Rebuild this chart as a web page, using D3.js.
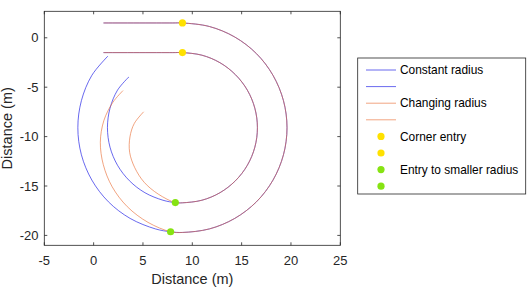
<!DOCTYPE html>
<html>
<head>
<meta charset="utf-8">
<script src="https://cdn.jsdelivr.net/npm/d3@7"></script>
<style>
  body { margin: 0; background: #fff; }
  svg { font-family: "Liberation Sans", Arial, sans-serif; }
</style>
</head>
<body>
<div id="chart"></div>
<script>
// track data (metres)
var sharedOuter = [[1, 1.5], [8, 1.5], [9, 1.5], [11.74, 1.14], [14.3, 0.08], [16.5, -1.6], [18.18, -3.8],
  [19.24, -6.36], [19.6, -9.1], [19.24, -11.84], [18.18, -14.4], [16.5, -16.6], [14.3, -18.28],
  [11.74, -19.34], [9, -19.7], [7.8, -19.63]];
var constOuterTail = [[6.26, -19.34], [3.7, -18.28], [1.5, -16.6], [-0.18, -14.4], [-1.24, -11.84],
  [-1.6, -9.1], [-1.24, -6.36], [-0.18, -3.8], [1.45, -1.85]];
var changeOuterTail = [[5.51, -18.68], [3.41, -17.09], [1.88, -15.08], [0.98, -12.84], [0.68, -10.57],
  [1.03, -8.4], [1.95, -6.53], [2.98, -5.34]];

var sharedInner = [[1, -1.5], [8, -1.5], [9, -1.5], [10.97, -1.76], [12.8, -2.52], [14.37, -3.73], [15.58, -5.3],
  [16.34, -7.13], [16.6, -9.1], [16.34, -11.07], [15.58, -12.9], [14.37, -14.47], [12.8, -15.68],
  [10.97, -16.44], [9, -16.7], [8.28, -16.68]];
var constInnerTail = [[7.03, -16.44], [5.2, -15.68], [3.63, -14.47], [2.42, -12.9], [1.66, -11.07],
  [1.4, -9.1], [1.66, -7.13], [2.42, -5.3], [3.58, -3.95]];
var changeInnerTail = [[6.55, -15.82], [5.13, -14.63], [4.17, -13.15], [3.65, -11.59], [3.68, -10.04],
  [4.12, -8.67], [5.07, -7.49]];

var cornerEntry = [[9, 1.5], [9, -1.5]];
var smallerEntry = [[7.8, -19.63], [8.28, -16.68]];

var xTicks = [-5, 0, 5, 10, 15, 20, 25];
var yTicks = [-20, -15, -10, -5, 0];
var legendLabels = ["Constant radius", "", "Changing radius", "", "Corner entry", "", "Entry to smaller radius", ""];

var width = 528, height = 288;
var blue = "#1f1fe6", orange = "#e86a30", yellow = "#ffe100", green = "#86e312", axisCol = "#262626";
var blueOp = 0.75, orangeOp = 0.68;

var svg = d3.select("#chart").append("svg")
    .attr("width", width)
    .attr("height", height);

var x = d3.scaleLinear().domain([-5, 25]).range([44.3, 340.3]);
var y = d3.scaleLinear().domain([-21, 2.68]).range([245.3, 11.3]);

var line = d3.line()
    .x(function(d) { return x(d[0]); })
    .y(function(d) { return y(d[1]); })
    .curve(d3.curveCatmullRom.alpha(0.5));

var series = [
  {pts: sharedOuter.concat(constOuterTail), color: blue, op: blueOp},
  {pts: sharedInner.concat(constInnerTail), color: blue, op: blueOp},
  {pts: sharedOuter.concat(changeOuterTail), color: orange, op: orangeOp},
  {pts: sharedInner.concat(changeInnerTail), color: orange, op: orangeOp}
];

var g = svg.append("g");
g.selectAll("path.track")
  .data(series).enter().append("path")
    .attr("class", "track")
    .attr("d", function(d) { return line(d.pts); })
    .attr("fill", "none")
    .attr("stroke", function(d) { return d.color; })
    .attr("stroke-opacity", function(d) { return d.op; })
    .attr("stroke-width", 0.9);

g.selectAll("circle.corner")
  .data(cornerEntry).enter().append("circle")
    .attr("class", "corner")
    .attr("cx", function(d) { return x(d[0]); })
    .attr("cy", function(d) { return y(d[1]); })
    .attr("r", 3.6)
    .attr("fill", yellow);

g.selectAll("circle.smaller")
  .data(smallerEntry).enter().append("circle")
    .attr("class", "smaller")
    .attr("cx", function(d) { return x(d[0]); })
    .attr("cy", function(d) { return y(d[1]); })
    .attr("r", 3.6)
    .attr("fill", green);

// axes, ticks point inward like matlab
var x0 = x.range()[0], x1 = x.range()[1], y0 = y.range()[0], y1 = y.range()[1];
var axes = svg.append("g").attr("stroke", axisCol).attr("stroke-width", 0.8);
axes.append("rect")
    .attr("x", x0).attr("y", y1)
    .attr("width", x1 - x0).attr("height", y0 - y1)
    .attr("fill", "none");

axes.selectAll("line.xt")
  .data(xTicks).enter().append("line")
    .attr("x1", function(d) { return x(d); }).attr("x2", function(d) { return x(d); })
    .attr("y1", y0).attr("y2", y0 - 3);
axes.selectAll("line.xtt")
  .data(xTicks).enter().append("line")
    .attr("x1", function(d) { return x(d); }).attr("x2", function(d) { return x(d); })
    .attr("y1", y1).attr("y2", y1 + 3);
axes.selectAll("line.yt")
  .data(yTicks).enter().append("line")
    .attr("y1", function(d) { return y(d); }).attr("y2", function(d) { return y(d); })
    .attr("x1", x0).attr("x2", x0 + 3);
axes.selectAll("line.ytr")
  .data(yTicks).enter().append("line")
    .attr("y1", function(d) { return y(d); }).attr("y2", function(d) { return y(d); })
    .attr("x1", x1).attr("x2", x1 - 3);

svg.selectAll("text.xl")
  .data(xTicks).enter().append("text")
    .attr("x", function(d) { return x(d); })
    .attr("y", 265)
    .attr("text-anchor", "middle")
    .attr("font-size", "13px")
    .attr("fill", axisCol)
    .text(function(d) { return d; });

svg.selectAll("text.yl")
  .data(yTicks).enter().append("text")
    .attr("x", 38.5)
    .attr("y", function(d) { return y(d); })
    .attr("dy", "0.35em")
    .attr("text-anchor", "end")
    .attr("font-size", "13px")
    .attr("fill", axisCol)
    .text(function(d) { return d; });

svg.append("text")
    .attr("x", (x0 + x1) / 2)
    .attr("y", 284)
    .attr("text-anchor", "middle")
    .attr("font-size", "14.5px")
    .attr("fill", axisCol)
    .text("Distance (m)");

svg.append("text")
    .attr("transform", "translate(12," + ((y0 + y1) / 2) + ") rotate(-90)")
    .attr("text-anchor", "middle")
    .attr("font-size", "14.5px")
    .attr("fill", axisCol)
    .text("Distance (m)");

// legend
var legend = svg.append("g");
legend.append("rect")
    .attr("x", 357.7).attr("y", 58)
    .attr("width", 168).attr("height", 136)
    .attr("fill", "#fff")
    .attr("stroke", axisCol)
    .attr("stroke-width", 0.8);

var legendKinds = ["line", "line", "line", "line", "dot", "dot", "dot", "dot"];
var legendColors = [blue, blue, orange, orange, yellow, yellow, green, green];
var legendOps = [blueOp, blueOp, orangeOp, orangeOp, 1, 1, 1, 1];

var item = legend.selectAll("g.item")
  .data(legendLabels).enter().append("g")
    .attr("class", "item")
    .attr("transform", function(d, i) { return "translate(0," + (70 + i * 16.6) + ")"; });

// labels repeat, so styles go by index
item.each(function(d, i) {
  var el = d3.select(this);
  if (legendKinds[i] == "line") {
    el.append("line")
      .attr("x1", 366).attr("x2", 396)
      .attr("y1", 0).attr("y2", 0)
      .attr("stroke", legendColors[i])
      .attr("stroke-opacity", legendOps[i])
      .attr("stroke-width", 0.9);
  } else {
    el.append("circle")
      .attr("cx", 381).attr("cy", 0)
      .attr("r", 3.6)
      .attr("fill", legendColors[i]);
  }
});

item.append("text")
    .attr("x", 400)
    .attr("y", 0)
    .attr("dy", "0.35em")
    .attr("font-size", "11.9px")
    .attr("fill", "#000")
    .text(function(d) { return d; });
</script>
</body>
</html>
